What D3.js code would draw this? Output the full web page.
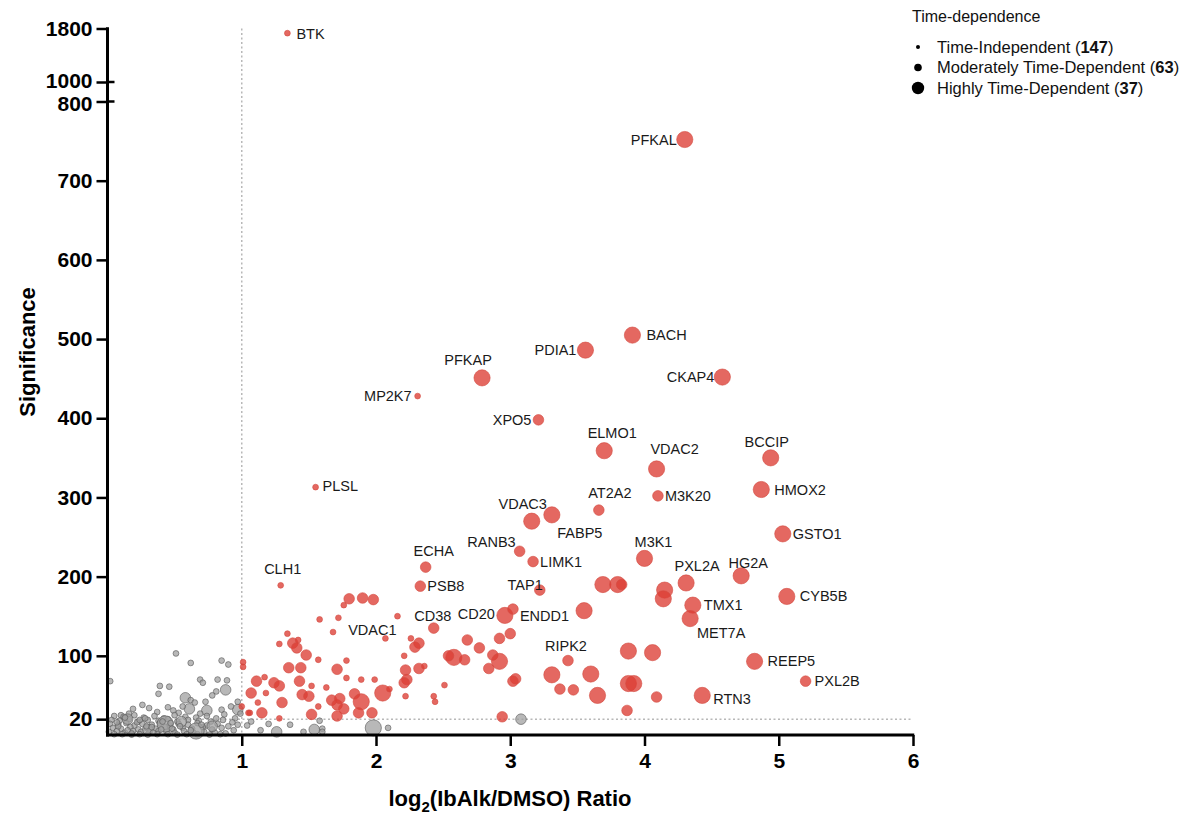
<!DOCTYPE html>
<html lang="en">
<head>
  <meta charset="utf-8">
  <title>Time-dependence volcano plot</title>
  <script src="https://cdn.jsdelivr.net/npm/d3@7"></script>
  <style>
    body { margin: 0; background: #fff; }
    svg text { font-family: "Liberation Sans", Arial, Helvetica, sans-serif; }
    .tick text { font-weight: bold; font-size: 21px; fill: #000; }
    .tick line { stroke: #000; stroke-width: 2.5; }
    .label { font-size: 14.5px; fill: #1a1a1a; }
    .legend text { font-size: 16.5px; fill: #111; }
  </style>
</head>
<body>
<div id="chart"></div>
<script>

// ---- data ----
// time-dependence class: 0 = independent, 1 = moderately, 2 = highly
var legendNames = ["Time-Independent", "Moderately Time-Dependent", "Highly Time-Dependent"];
var legendCounts = [147, 63, 37];

var xTicks = [1, 2, 3, 4, 5, 6];
var yTicksLow = [20, 100, 200, 300, 400, 500, 600, 700, 800];
var yTicksHigh = [1000, 1800];

// labelled proteins
var labelNames = ["BTK", "PFKAL", "PFKAP", "MP2K7", "PDIA1", "BACH", "XPO5", "CKAP4", "ELMO1", "VDAC2",
  "BCCIP", "HMOX2", "M3K20", "AT2A2", "PLSL", "VDAC3", "FABP5", "GSTO1", "RANB3", "LIMK1",
  "M3K1", "ECHA", "PSB8", "TAP1", "PXL2A", "HG2A", "CYB5B", "TMX1", "MET7A", "CLH1",
  "CD38", "CD20", "ENDD1", "VDAC1", "RIPK2", "REEP5", "PXL2B", "RTN3"];
var labelRatio = [1.34, 4.30, 2.79, 2.31, 3.56, 3.91, 3.21, 4.58, 3.70, 4.09,
  4.94, 4.87, 4.10, 3.66, 1.55, 3.16, 3.31, 5.03, 3.07, 3.17,
  4.00, 2.37, 2.33, 3.22, 4.31, 4.72, 5.06, 4.36, 4.34, 1.29,
  2.43, 2.96, 3.02, 2.07, 3.43, 4.82, 5.20, 4.43];
var labelSig = [1730, 752, 451, 428, 486, 505, 398, 452, 359, 336,
  350, 310, 302, 284, 313, 270, 278, 254, 232, 219,
  223, 212, 188, 183, 192, 201, 175, 164, 147, 189,
  135, 151, 159, 122, 94, 93, 68, 50];
var labelClass = [0, 2, 2, 0, 2, 2, 1, 2, 2, 2,
  2, 2, 1, 1, 0, 2, 2, 2, 1, 1,
  2, 1, 1, 1, 2, 2, 2, 2, 2, 0,
  1, 2, 1, 0, 1, 2, 1, 2];

// other significant hits (red)
var hitRatio = [3.69, 3.80, 3.83, 3.55, 4.15, 4.14, 3.88, 4.06, 3.60, 3.47, 3.65, 3.88, 3.92, 4.09, 3.87, 3.31, 3.37,
  2.68, 2.92, 3.00, 2.77, 2.87, 2.92, 2.84, 2.58, 2.54, 2.66, 3.04, 3.02, 2.51, 2.43, 2.44, 2.94, 2.32, 2.29,
  2.26, 2.22, 2.32, 2.36, 2.21, 2.23, 2.21, 2.22,
  1.90, 1.80, 1.76, 1.98, 1.72, 1.58, 2.16, 1.68, 1.34, 1.28, 1.38, 1.41, 1.42, 1.48, 1.57, 1.78, 1.35, 1.44,
  1.71, 1.17, 1.11, 1.24, 1.28, 1.43, 1.52, 1.63, 1.78, 1.89, 1.99, 2.05, 2.10, 1.07, 1.18, 1.30, 1.12, 1.15,
  1.06, 1.28, 1.45, 1.50, 1.57, 1.52, 1.67, 1.71, 1.73, 1.76, 1.71, 1.84, 1.89, 1.97, 1.87, 1.01, 1.01, 1.05, 1.00];
var hitSig = [190, 190, 190, 157, 183, 172, 106, 104, 77, 57, 50, 65, 65, 48, 31, 76, 58,
  120, 122, 128, 110, 101, 93, 84, 98, 100, 95, 71, 68, 63, 49, 42, 23, 116, 111,
  122, 82, 84, 87, 100, 70, 66, 49,
  173, 172, 164, 171, 148, 146, 150, 130, 128, 115, 116, 110, 120, 101, 95, 94, 85, 85,
  83, 73, 68, 66, 62, 68, 62, 60, 72, 70, 70, 53, 58, 53, 53, 41, 41, 28,
  28, 21, 51, 49, 36, 26, 44, 38, 46, 33, 24, 52, 42, 28, 28, 92, 86, 28, 36];
var hitClass = [2, 2, 1, 2, 2, 2, 2, 2, 2, 1, 2, 2, 2, 1, 1, 2, 1,
  1, 1, 1, 1, 1, 2, 1, 2, 1, 1, 1, 1, 0, 0, 0, 1, 1, 1,
  0, 1, 1, 0, 0, 1, 1, 0,
  1, 1, 0, 1, 0, 0, 0, 0, 0, 0, 1, 1, 0, 1, 0, 0, 1, 1,
  1, 0, 1, 1, 1, 1, 0, 0, 0, 0, 0, 2, 0, 1, 0, 1, 0, 1,
  0, 0, 1, 1, 0, 1, 1, 1, 1, 1, 1, 1, 2, 1, 1, 0, 0, 0, 0];

// background (not significant, grey)
var bgRatio = [0.02, 0.39, 0.46, 0.38, 0.51, 0.62, 0.85, 0.90, 0.69, 0.71, 0.82, 0.89, 0.81, 0.78, 0.88, 0.58, 0.62, 0.65,
  0.73, 0.61, 0.74, 0.69, 0.56, 0.53, 0.49, 0.45, 0.97, 0.97, 0.85, 0.26, 0.19, 0.31, 0.92, 0.87, 0.95, 0.99, 0.16, 0.37, 0.10,
  0.05, 0.12, 0.20, 0.27, 0.35, 0.42, 0.50, 0.58, 0.66, 0.74, 0.81,
  0.03, 0.09, 0.16, 0.23, 0.30, 0.38, 0.45, 0.52, 0.60, 0.68, 0.77, 0.86, 0.93,
  0.02, 0.08, 0.14, 0.20, 0.26, 0.33, 0.39, 0.46, 0.53, 0.60, 0.67, 0.74, 0.82, 0.90, 0.97,
  0.04, 0.10, 0.17, 0.23, 0.29, 0.36, 0.43, 0.49, 0.56, 0.63, 0.71, 0.78, 0.85, 0.94,
  0.01, 0.07, 0.13, 0.19, 0.25, 0.31, 0.38, 0.44, 0.50, 0.57, 0.64, 0.72, 0.80, 0.88,
  0.05, 0.11, 0.18, 0.24, 0.30, 0.37, 0.45, 0.52, 0.59, 0.67, 0.76, 0.84,
  0.43, 0.66, 0.30, 0.55, 0.78, 0.15,
  0.08, 0.15, 0.22, 0.29, 0.34, 0.41, 0.48, 0.54, 0.62, 0.70, 0.13, 0.24, 0.33, 0.40, 0.47, 0.07, 0.18, 0.28,
  1.07, 1.04, 1.14, 1.20, 1.26, 1.36, 1.46, 1.54, 1.60, 1.58, 1.60, 1.98, 2.09, 3.08];
var bgSig = [68, 62, 61, 52, 103, 91, 94, 89, 70, 66, 70, 69, 55, 50, 57, 47, 44, 41,
  42, 33, 31, 27, 36, 28, 31, 35, 42, 32, 32, 38, 33, 34, 36, 26, 21, 27, 27, 29, 25,
  24, 23, 25, 22, 24, 21, 25, 23, 22, 24, 21,
  19, 18, 20, 17, 19, 18, 20, 17, 19, 18, 17, 19, 16,
  14, 13, 15, 12, 14, 13, 15, 12, 14, 13, 15, 12, 14, 11, 13,
  9, 8, 10, 7, 9, 8, 10, 7, 9, 8, 10, 7, 9, 6,
  4, 5, 3, 5, 4, 3, 5, 4, 3, 5, 3, 4, 3, 2,
  1, 1, 0.5, 1, 0.5, 1, 1, 0.5, 1, 1, 0.5, 1,
  14, 5, 7, 17, 11, 20,
  11, 6, 16, 11, 3, 17, 8, 11, 6, 13, 22, 19, 10, 7, 15, 16, 2, 21,
  17, 12, 6, 14, 4, 13, 4, 7, 8, 18, 4, 9, 9, 20];
var bgClass = [0, 0, 0, 0, 0, 0, 0, 0, 0, 0, 0, 0, 0, 0, 1, 1, 0, 0,
  0, 1, 1, 0, 0, 0, 0, 0, 0, 1, 0, 0, 0, 0, 0, 0, 0, 0, 0, 0, 0,
  0, 0, 0, 0, 0, 0, 0, 0, 0, 0, 0,
  0, 0, 0, 0, 0, 0, 0, 0, 0, 0, 0, 0, 0,
  0, 0, 0, 0, 0, 0, 0, 0, 0, 0, 0, 0, 0, 0, 0,
  0, 0, 0, 0, 0, 0, 0, 0, 0, 0, 0, 0, 0, 0,
  0, 0, 0, 0, 0, 0, 0, 0, 0, 0, 0, 0, 0, 0,
  0, 0, 0, 0, 0, 0, 0, 0, 0, 0, 0, 0,
  2, 2, 1, 1, 1, 1,
  0, 0, 0, 0, 0, 0, 0, 0, 0, 0, 0, 0, 0, 0, 0, 0, 0, 0,
  0, 0, 0, 0, 1, 0, 0, 1, 0, 0, 0, 2, 0, 1];

// ---- where each label sits relative to its dot: anchor, dx, dy ----
var labelPos = {
  BTK: ["start", 9, 1], PFKAL: ["end", -8, 0], PFKAP: ["middle", -14, -18], MP2K7: ["end", -6, 0],
  PDIA1: ["end", -9, 0], BACH: ["start", 14, 0], XPO5: ["end", -7, 0], CKAP4: ["end", -8, 0],
  ELMO1: ["middle", 8, -18], VDAC2: ["middle", 18, -20], BCCIP: ["middle", -4, -16], HMOX2: ["start", 13, 0],
  M3K20: ["start", 7, 0], AT2A2: ["middle", 11, -17], PLSL: ["start", 7, -1], VDAC3: ["middle", -9, -17],
  FABP5: ["middle", 28, 18], GSTO1: ["start", 10, 0], RANB3: ["end", -4, -9], LIMK1: ["start", 7, 0],
  M3K1: ["middle", 9, -16], ECHA: ["middle", 8, -16], PSB8: ["start", 7, 0], TAP1: ["end", 3, -5],
  PXL2A: ["middle", 11, -17], HG2A: ["middle", 7, -13], CYB5B: ["start", 13, 0], TMX1: ["start", 11, 0],
  MET7A: ["middle", 31, 14], CLH1: ["middle", 2, -16], CD38: ["middle", -1, -12], CD20: ["end", -10, -2],
  ENDD1: ["start", 7, 7], VDAC1: ["middle", -13, -8], RIPK2: ["middle", -2, -15], REEP5: ["start", 13, 0],
  PXL2B: ["start", 9, 0], RTN3: ["start", 11, 4]
};

// ---- scales ----
var svg = d3.select("#chart").append("svg")
    .attr("width", 1198)
    .attr("height", 816);

var x = d3.scaleLinear().domain([0, 6]).range([107.5, 913]);
// broken y axis: 0-800 below, 1000-1800 compressed above
var yLow = d3.scaleLinear().domain([0, 800]).range([735, 101.5]);
var yHigh = d3.scaleLinear().domain([1000, 1800]).range([82, 28.5]);
function y(v) { return v > 900 ? yHigh(v) : yLow(v); }

var radius = d3.scaleOrdinal().domain([0, 1, 2]).range([2.9, 5.3, 8.1]);

// dotted threshold lines
svg.append("line")
    .attr("x1", x(1)).attr("x2", x(1))
    .attr("y1", yHigh(1800)).attr("y2", yLow(0))
    .attr("stroke", "#b8b8b8").attr("stroke-width", 1.5).attr("stroke-dasharray", "2,2.5");
svg.append("line")
    .attr("x1", x(0)).attr("x2", x(6))
    .attr("y1", yLow(20)).attr("y2", yLow(20))
    .attr("stroke", "#b8b8b8").attr("stroke-width", 1.5).attr("stroke-dasharray", "2,2.5");

// ---- points ----
var bg = bgRatio.map(function(v, i) { return {x: v, y: bgSig[i], c: bgClass[i]}; });
var hits = hitRatio.map(function(v, i) { return {x: v, y: hitSig[i], c: hitClass[i]}; });
var labelled = labelRatio.map(function(v, i) { return {name: labelNames[i], x: v, y: labelSig[i], c: labelClass[i]}; });

svg.append("g").selectAll("circle")
    .data(bg)
  .enter().append("circle")
    .attr("cx", function(d) { return x(d.x); })
    .attr("cy", function(d) { return y(d.y); })
    .attr("r", function(d) { return radius(d.c); })
    .attr("fill", "#a0a0a0").attr("fill-opacity", 0.75)
    .attr("stroke", "#555").attr("stroke-opacity", 0.75).attr("stroke-width", 0.8);

svg.append("g").selectAll("circle")
    .data(hits.concat(labelled))
  .enter().append("circle")
    .attr("cx", function(d) { return x(d.x); })
    .attr("cy", function(d) { return y(d.y); })
    .attr("r", function(d) { return radius(d.c); })
    .attr("fill", "#dd3e34").attr("fill-opacity", 0.78)
    .attr("stroke", "#d44a40").attr("stroke-width", 0.6);

svg.append("g").selectAll("text")
    .data(labelled)
  .enter().append("text")
    .attr("class", "label")
    .attr("x", function(d) { return x(d.x) + labelPos[d.name][1]; })
    .attr("y", function(d) { return y(d.y) + labelPos[d.name][2]; })
    .attr("dy", "0.35em")
    .attr("text-anchor", function(d) { return labelPos[d.name][0]; })
    .text(function(d) { return d.name; });

// ---- axes ----
var fmt = d3.format("d");

var xAxis = svg.append("g")
    .attr("transform", "translate(0," + yLow(0) + ")")
    .call(d3.axisBottom(x).tickValues(xTicks).tickFormat(fmt).tickSize(11).tickPadding(7).tickSizeOuter(0));
xAxis.select(".domain").remove();

var yAxisLow = svg.append("g")
    .attr("transform", "translate(" + x(0) + ",0)")
    .call(d3.axisLeft(yLow).tickValues(yTicksLow).tickFormat(fmt).tickSize(11).tickPadding(4).tickSizeOuter(0));
yAxisLow.select(".domain").remove();

var yAxisHigh = svg.append("g")
    .attr("transform", "translate(" + x(0) + ",0)")
    .call(d3.axisLeft(yHigh).tickValues(yTicksHigh).tickFormat(fmt).tickSize(11).tickPadding(4).tickSizeOuter(0));
yAxisHigh.select(".domain").remove();

// the two labels either side of the break sit tight; nudge them apart a little
yAxisHigh.selectAll(".tick text").filter(function(d) { return d === 1000; }).attr("dy", "0.25em");
yAxisLow.selectAll(".tick text").filter(function(d) { return d === 800; }).attr("dy", "0.42em");

// axis lines
svg.append("line")
    .attr("x1", x(0)).attr("x2", x(0))
    .attr("y1", yHigh(1800) - 1.25).attr("y2", yLow(0) + 1.5)
    .attr("stroke", "#000").attr("stroke-width", 3);
svg.append("line")
    .attr("x1", x(0) - 1.5).attr("x2", x(6) + 1.25)
    .attr("y1", yLow(0)).attr("y2", yLow(0))
    .attr("stroke", "#000").attr("stroke-width", 3);

// break marks at 800 / 1000 cross the axis
[[yLow, 800], [yHigh, 1000]].forEach(function(b) {
  svg.append("line")
      .attr("x1", x(0)).attr("x2", x(0) + 7)
      .attr("y1", b[0](b[1])).attr("y2", b[0](b[1]))
      .attr("stroke", "#000").attr("stroke-width", 2.5);
});

// axis titles
svg.append("text")
    .attr("transform", "translate(27,352) rotate(-90)")
    .attr("text-anchor", "middle")
    .attr("dy", "0.35em")
    .attr("font-weight", "bold")
    .attr("font-size", 22)
    .text("Significance");

var xt = svg.append("text")
    .attr("x", 510).attr("y", 806)
    .attr("text-anchor", "middle")
    .attr("font-weight", "bold")
    .attr("font-size", 22);
xt.append("tspan").text("log");
xt.append("tspan").attr("dy", 6).attr("font-size", 15).text("2");
xt.append("tspan").attr("dy", -6).text("(IbAlk/DMSO) Ratio");

// ---- legend ----
var legend = svg.append("g").attr("class", "legend");
legend.append("text").attr("x", 912).attr("y", 22).style("font-size", "16px").text("Time-dependence");
var legendR = [2, 3.8, 6.2];
legendNames.forEach(function(name, i) {
  var cy = 47 + i * 20.5;
  legend.append("circle").attr("cx", 918).attr("cy", cy).attr("r", legendR[i]).attr("fill", "#000");
  var t = legend.append("text").attr("x", 937).attr("y", cy).attr("dy", "0.35em");
  t.append("tspan").text(name + " (");
  t.append("tspan").attr("font-weight", "bold").text(legendCounts[i]);
  t.append("tspan").text(")");
});

</script>
</body>
</html>
